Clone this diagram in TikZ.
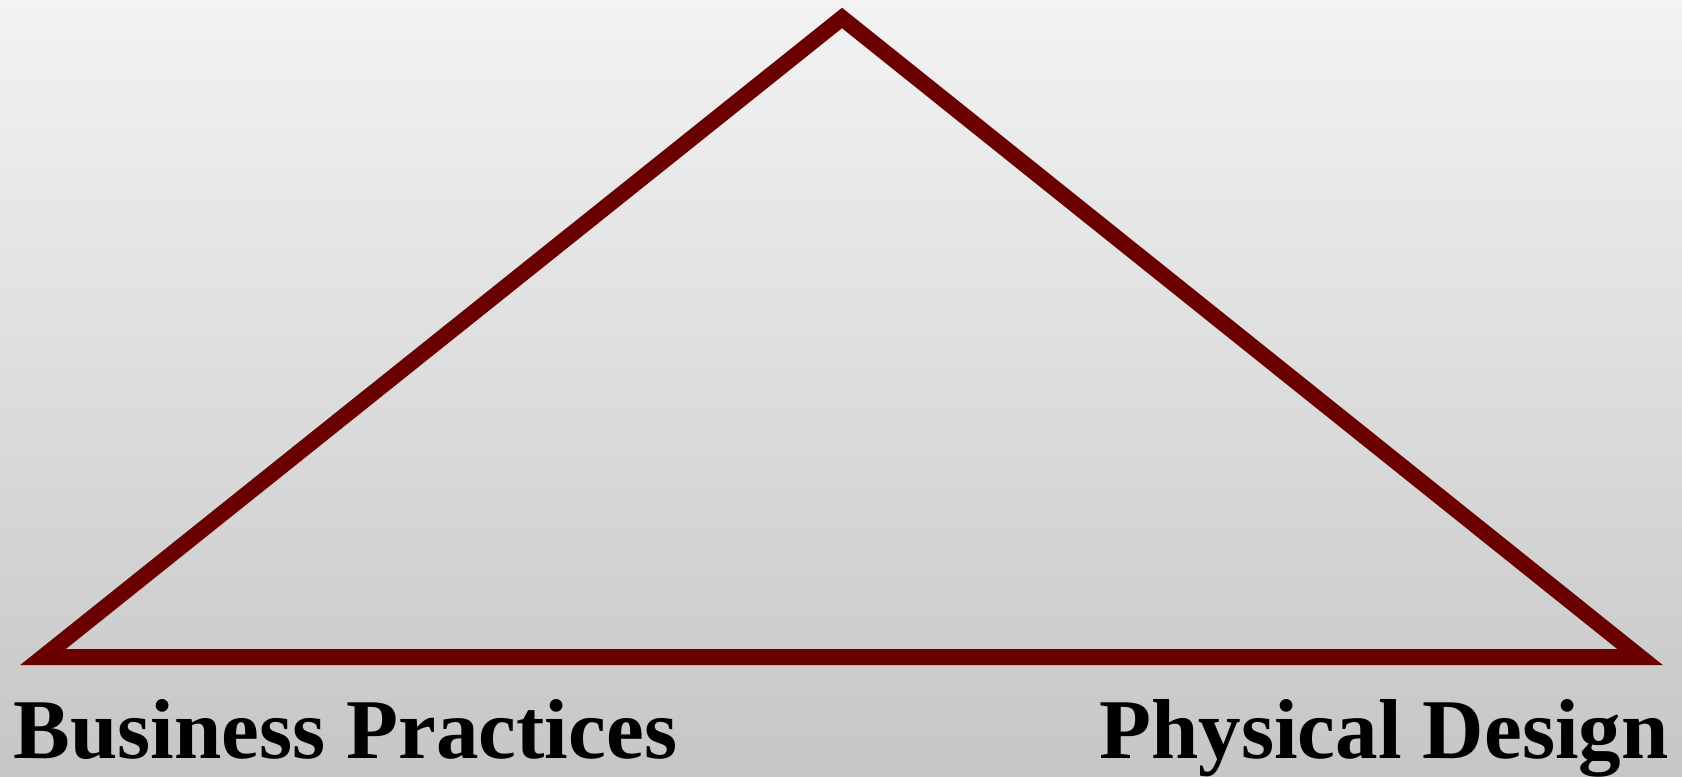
\documentclass[tikz,border=0pt]{standalone}
\usepackage{fontspec}
\setmainfont{Liberation Serif}
\usepackage{xcolor}
\usepackage{tikz}
\definecolor{trianglered}{RGB}{107,0,0}
\definecolor{bgtop}{RGB}{243,243,243}
\definecolor{bgbottom}{RGB}{198,198,198}
\tikzset{
  trianglepicture/.style={line join=miter},
  triangleedge/.style={draw=trianglered, line width=9.1pt, line join=miter},
  cornerlabel/.style={inner sep=0pt, font=\fontsize{48.4}{58}\selectfont\bfseries}
}

\begin{document}
\begin{tikzpicture}[trianglepicture]
\shade[top color=bgtop, bottom color=bgbottom] (0,0) rectangle (33.64,15.52);
\useasboundingbox (0,0) rectangle (33.64,15.52);
\coordinate (apex) at (16.84,15.16);
\coordinate (leftcorner) at (0.86,2.38);
\coordinate (rightcorner) at (32.80,2.38);
\draw[triangleedge] (apex) -- (rightcorner) -- (leftcorner) -- cycle;
\node[cornerlabel, anchor=base west] (business) at (0.26,0.36) {Business Practices};
\node[cornerlabel, anchor=base east] (physical) at (33.38,0.36) {Physical Design};
\end{tikzpicture}
\end{document}
